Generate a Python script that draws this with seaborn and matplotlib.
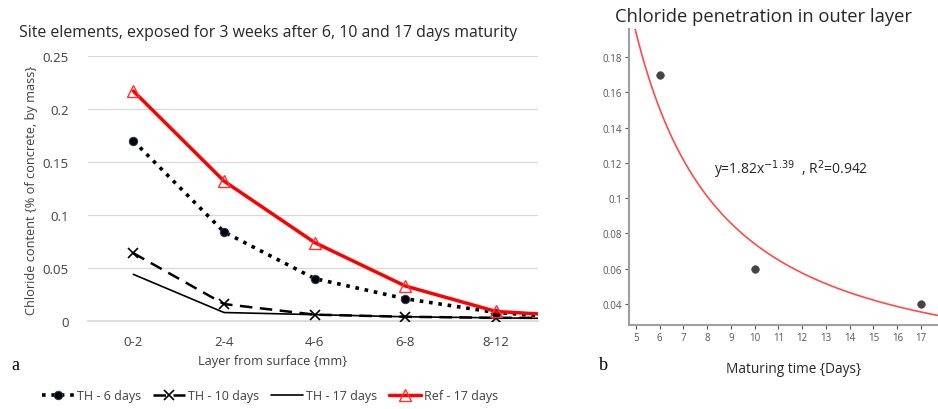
import numpy as np
import pandas as pd
import matplotlib
matplotlib.use("Agg")
import matplotlib.pyplot as plt
import seaborn as sns

# ---- data (panel a) ----
layers = ["0-2", "2-4", "4-6", "6-8", "8-12", ""]
th_6 = [0.170, 0.084, 0.040, 0.021, 0.008, 0.002]
th_10 = [0.064, 0.016, 0.006, 0.004, 0.003, 0.003]
th_17 = [0.044, 0.008, 0.006, 0.004, 0.003, 0.002]
ref_17 = [0.217, 0.132, 0.074, 0.033, 0.009, 0.004]
y_ticks_a = [0, 0.05, 0.1, 0.15, 0.2, 0.25]
y_ticklabels_a = ["0", "0.05", "0.1", "0.15", "0.2", "0.25"]

# ---- data (panel b) ----
maturing_days = [6, 10, 17]
outer_chloride = [0.17, 0.06, 0.04]
fit_a = 1.82
fit_b = -1.39
x_ticks_b = list(range(5, 18))
y_ticks_b = [0.04, 0.06, 0.08, 0.1, 0.12, 0.14, 0.16, 0.18]
y_ticklabels_b = ["0.04", "0.06", "0.08", "0.1", "0.12", "0.14", "0.16", "0.18"]

sns.set_theme(style="white")
plt.rcParams["font.family"] = ["Open Sans", "DejaVu Sans"]

W, H = 938, 410
fig = plt.figure(figsize=(W / 100, H / 100), dpi=100)

def fx(px):
    return px / W

def fy(py):
    return 1 - py / H

# ---------- panel a ----------
axa = fig.add_axes([fx(88), fy(322), fx(538) - fx(88), fy(57) - fy(322)])
pos = np.arange(len(layers))
dark = "#404040"

sns.lineplot(x=pos, y=th_6, ax=axa, color="black", lw=2.6, linestyle=(0, (1, 1.6)),
             marker="o", markersize=6, markerfacecolor="black",
             markeredgecolor="#1f3a5a", label="TH - 6 days", zorder=3)
sns.lineplot(x=pos, y=th_10, ax=axa, color="black", lw=1.8, linestyle=(0, (5, 3)),
             marker="x", markersize=7.5, markeredgewidth=1.2, markeredgecolor="black",
             label="TH - 10 days", zorder=3)
sns.lineplot(x=pos, y=th_17, ax=axa, color="black", lw=1.2, linestyle="-",
             label="TH - 17 days", zorder=3)
sns.lineplot(x=pos, y=ref_17, ax=axa, color="#ff0000", lw=2.5, linestyle="-",
             marker="^", markersize=9, markerfacecolor="none",
             markeredgecolor="#ff3030", markeredgewidth=1.0, label="Ref - 17 days", zorder=4)

axa.set_xlim(-0.5, 4.463)
axa.set_ylim(0, 0.25)
axa.set_yticks(y_ticks_a)
axa.set_yticklabels(y_ticklabels_a)
axa.set_xticks(pos[:5])
axa.set_xticklabels(layers[:5])
axa.tick_params(axis="both", length=0, colors=dark, labelsize=9.5, pad=10)
axa.tick_params(axis="y", pad=14)
axa.grid(axis="y", color="#d9d9d9", lw=0.9)
for s in ["top", "right", "left"]:
    axa.spines[s].set_visible(False)
axa.spines["bottom"].set_color("#d9d9d9")
axa.set_xlabel("")
axa.set_ylabel("")
axa.get_legend().remove()

fig.text(fx(268), fy(33), "Site elements, exposed for 3 weeks after 6, 10 and 17 days maturity",
         ha="center", va="center", fontsize=11.4, color="#262626")
fig.text(fx(32), fy(190), "Chloride content {% of concrete, by mass}", rotation=90,
         ha="center", va="center", fontsize=9.2, color=dark)
fig.text(fx(273), fy(362), "Layer from surface {mm}", ha="center", va="center",
         fontsize=9.2, color=dark)
fig.text(fx(15), fy(366), "a", ha="center", va="center", fontsize=13,
         family=["Liberation Serif", "DejaVu Serif"], color="black")

handles, labels = axa.get_legend_handles_labels()
fig.legend(handles, labels, loc="center", bbox_to_anchor=(fx(270), fy(397)), ncol=4,
           frameon=False, fontsize=9, handlelength=2.6, handletextpad=0.25,
           columnspacing=0.9, labelcolor=dark)

# ---------- panel b ----------
axb = fig.add_axes([fx(629), fy(326), 1 - fx(629), fy(30) - fy(326)])
xs = np.linspace(4.714, 17.8, 300)
fit_df = pd.DataFrame({"x": xs, "y": fit_a * xs ** fit_b})
sns.lineplot(data=fit_df, x="x", y="y", ax=axb, color="#ff4a4a", lw=1.2)
sns.scatterplot(x=maturing_days, y=outer_chloride, ax=axb, color="#444444",
                s=30, edgecolor="#444444", zorder=4)
axb.set_xlim(4.714, 17.715)
axb.set_ylim(0.0281, 0.1959)
axb.set_xticks(x_ticks_b)
axb.set_yticks(y_ticks_b)
axb.set_yticklabels(y_ticklabels_b)
axb.tick_params(axis="both", labelsize=7, colors="#555555", length=3, width=0.8,
                direction="out", pad=2)
axb.tick_params(axis="both", which="both", bottom=True, left=True)
for s in ["top", "right"]:
    axb.spines[s].set_visible(False)
for s in ["left", "bottom"]:
    axb.spines[s].set_color("#a0a0a0")
    axb.spines[s].set_linewidth(1.5)
axb.set_xlabel("")
axb.set_ylabel("")
axb.text(8.3, 0.1165, "y=1.82x$^{-1.39}$  , R$^2$=0.942", ha="left", va="center",
         fontsize=10, color="#262626")

fig.text(fx(763), fy(17), "Chloride penetration in outer layer", ha="center", va="center",
         fontsize=13.2, color="#262626")
fig.text(fx(794), fy(370), "Maturing time {Days}", ha="center", va="center",
         fontsize=9.8, color="#262626")
fig.text(fx(603), fy(366), "b", ha="center", va="center", fontsize=13,
         family=["Liberation Serif", "DejaVu Serif"], color="black")

fig.savefig("out.png", dpi=100)
